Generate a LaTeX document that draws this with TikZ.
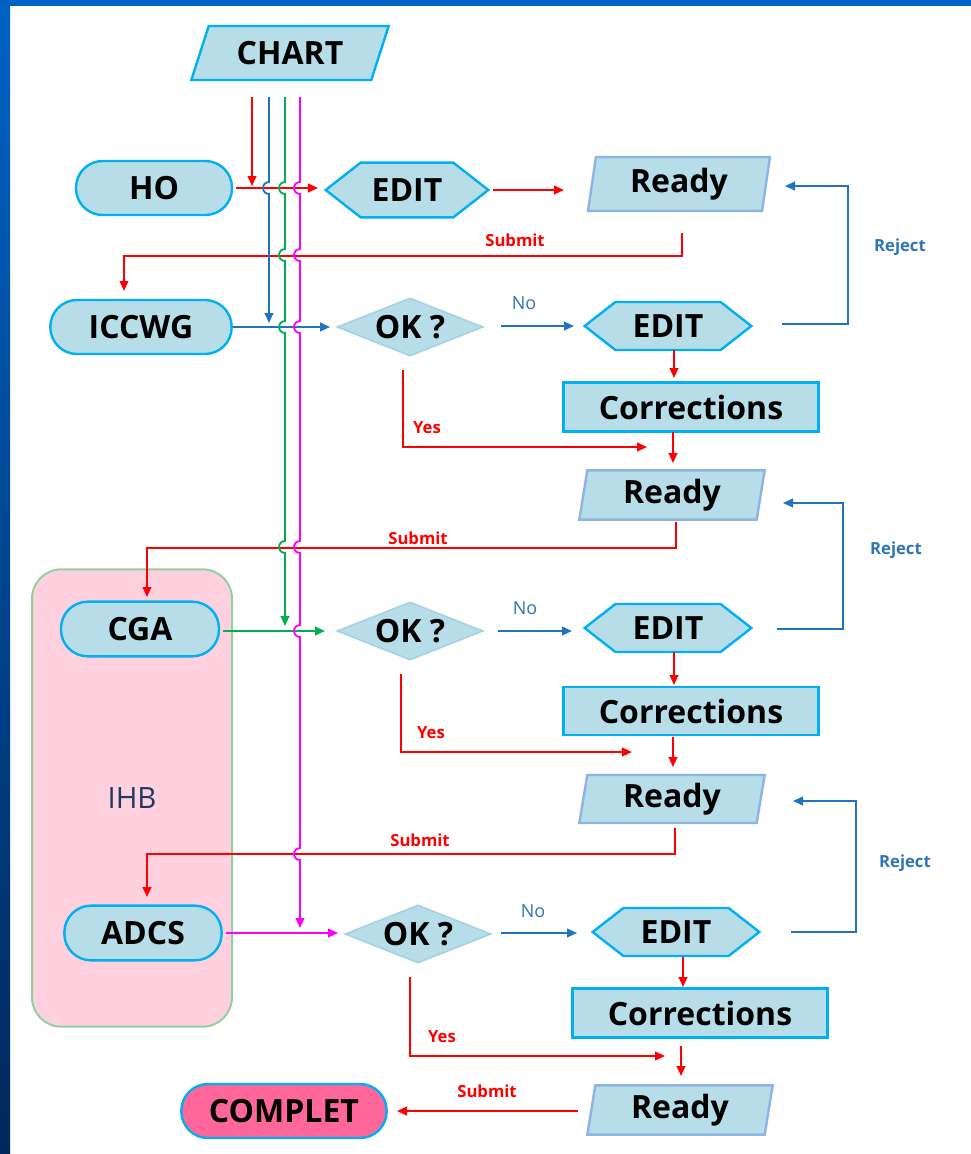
\documentclass[tikz,border=0pt]{standalone}
\usepackage{fontspec}
\setmainfont{Open Sans}
\usepackage{tikz}
\usetikzlibrary{arrows.meta}
\usetikzlibrary{calc}
\usetikzlibrary{shapes.geometric,shapes.symbols}
\definecolor{boxfill}{RGB}{183,221,232}
\definecolor{boxline}{RGB}{0,176,240}
\definecolor{readyline}{RGB}{141,180,226}
\definecolor{askline}{RGB}{165,210,224}
\definecolor{flowred}{RGB}{255,0,0}
\definecolor{flowblue}{RGB}{31,115,192}
\definecolor{flowgreen}{RGB}{0,176,80}
\definecolor{flowpink}{RGB}{255,0,255}
\definecolor{labelblue}{RGB}{46,117,182}
\definecolor{ihbfill}{RGB}{255,209,222}
\definecolor{ihbline}{RGB}{146,208,160}
\definecolor{ihbtext}{RGB}{31,56,100}
\definecolor{completfill}{RGB}{255,102,153}
\definecolor{slideblue}{RGB}{0,98,196}
\definecolor{slidedark}{RGB}{0,40,92}
\tikzset{
	>={Triangle[length=7.5pt,width=6.5pt]},
	bignode/.style={draw=boxline, fill=boxfill, line width=1.8pt, inner sep=0pt, font=\fontsize{24}{28}\selectfont\bfseries},
	termnode/.style={bignode, rectangle, rounded corners=20pt, minimum height=40.5pt},
	editnode/.style={bignode, signal, signal to=west and east, signal pointer angle=76, minimum height=36pt, minimum width=125pt},
	readynode/.style={bignode, draw=readyline, trapezium, trapezium left angle=76, trapezium right angle=104, trapezium stretches body=true, minimum height=37pt, minimum width=139pt},
	asknode/.style={bignode, draw=askline, line width=1.2pt, diamond, aspect=2.5, minimum width=109.5pt, minimum height=43.5pt},
	rectnode/.style={bignode, rectangle, minimum width=191pt, minimum height=37pt},
	redflow/.style={draw=flowred, line width=1.4pt},
	blueflow/.style={draw=flowblue, line width=1.4pt},
	greenflow/.style={draw=flowgreen, line width=1.4pt},
	pinkflow/.style={draw=flowpink, line width=1.4pt},
	redlabel/.style={text=flowred, font=\fontsize{12.5}{15}\selectfont\bfseries},
	rejectlabel/.style={text=labelblue, font=\fontsize{12.5}{15}\selectfont\bfseries},
	nolabel/.style={text=labelblue, font=\fontsize{13.5}{15}\selectfont}
}

\begin{document}
\begin{tikzpicture}[x=0.75pt,y=-0.75pt]
		% slide frame
		\fill[white] (0,0) rectangle (971,1154);
		\fill[slideblue] (0,0) rectangle (971,6);
		\shade[top color=slideblue, bottom color=slidedark] (0,0) rectangle (10,1154);
		\useasboundingbox (0,0) rectangle (971,1154);
		
		\node[draw=ihbline, fill=ihbfill, line width=1.5pt, rounded corners=22pt, minimum width=150pt, minimum height=343pt, text=ihbtext, font=\fontsize{22}{26}\selectfont] at (132,798) (IHB) {IHB};
		
		\node[bignode, trapezium, trapezium left angle=53.5, trapezium right angle=126.5, trapezium stretches body=true, minimum width=148pt, minimum height=40.5pt] at (290,53) (CHART) {CHART};
		
		\node[termnode, minimum width=117pt] at (154,188) (HO) {HO};
		\node[editnode, minimum width=122pt, minimum height=41pt] at (407,190) (EDIT1) {EDIT};
		\node[readynode, minimum width=136.5pt, minimum height=40.5pt] at (679,184) (Ready1) {Ready};
		
		\node[termnode, minimum width=136pt] at (141,327) (ICCWG) {ICCWG};
		\node[asknode] at (410,327) (OK1) {OK ?};
		\node[editnode] at (668,326) (EDIT2) {EDIT};
		\node[rectnode] at (691,407) (Corr1) {Corrections};
		\node[readynode] at (672,495) (Ready2) {Ready};
		
		\node[termnode, minimum width=118.5pt, minimum height=41pt] at (140,629) (CGA) {CGA};
		\node[asknode] at (410,631) (OK2) {OK ?};
		\node[editnode] at (668,628) (EDIT3) {EDIT};
		\node[rectnode, minimum height=36pt] at (691,711) (Corr2) {Corrections};
		\node[readynode, minimum height=36pt] at (672,799) (Ready3) {Ready};
		
		\node[termnode, minimum width=118pt, minimum height=41pt] at (143,933) (ADCS) {ADCS};
		\node[asknode] at (418,934) (OK3) {OK ?};
		\node[editnode] at (676,932) (EDIT4) {EDIT};
		\node[rectnode] at (700,1013) (Corr3) {Corrections};
		\node[readynode] at (680,1110) (Ready4) {Ready};
		\node[termnode, fill=completfill, minimum width=154pt] at (284,1111) (COMPLET) {COMPLET};
		
		% HO row
		\draw[redflow, ->] ($(HO)+(82,0)$) -- ($(EDIT1)+(-89,-2)$);
		\draw[redflow, ->] ($(EDIT1)+(86,0)$) -- ($(Ready1)+(-115,6)$);
		\draw[redflow, ->] ($(Ready1)+(3,49)$) -- ++(0,23) -| ($(ICCWG)+(-17,-36)$);
		\node[redlabel] at (515,240) (s1) {Submit};
		
		% ICCWG row
		\draw[blueflow, ->] ($(ICCWG)+(92,0)$) -- ($(OK1)+(-80,0)$);
		\draw[blueflow, ->] ($(OK1)+(91,-1)$) -- ($(EDIT2)+(-94,0)$);
		\node[nolabel] at (524,303) (n1) {No};
		\draw[blueflow, ->] ($(EDIT2)+(114,-2)$) -| ($(Ready1)+(169,2)$) -- ($(Ready1)+(106,2)$);
		\node[rejectlabel] at (900,247) (r1) {Reject};
		\draw[redflow, ->] ($(EDIT2)+(6,24)$) -- ($(Corr1)+(-17,-29)$);
		\draw[redflow, ->] ($(OK1)+(-7,43)$) |- ($(Ready2)+(-25,-48)$);
		\node[redlabel] at (427,428) (y1) {Yes};
		\draw[redflow, ->] ($(Corr1)+(-18,25)$) -- ($(Ready2)+(1,-32)$);
		\draw[redflow, ->] ($(Ready2)+(4,27)$) -- ++(0,26) -| ($(CGA)+(7,-32)$);
		\node[redlabel] at (418,538) (s2) {Submit};
		
		% CGA row
		\draw[greenflow, ->] ($(CGA)+(83,2)$) -- ($(OK2)+(-85,0)$);
		\draw[blueflow, ->] ($(OK2)+(88,0)$) -- ($(EDIT3)+(-96,3)$);
		\node[nolabel] at (525,608) (n2) {No};
		\draw[blueflow, ->] ($(EDIT3)+(109,1)$) -| ($(Ready2)+(171,8)$) -- ($(Ready2)+(111,8)$);
		\node[rejectlabel] at (896,550) (r2) {Reject};
		\draw[redflow, ->] ($(EDIT3)+(6,24)$) -- ($(Corr2)+(-17,-26)$);
		\draw[redflow, ->] ($(OK2)+(-9,43)$) |- ($(Ready3)+(-40,-47)$);
		\node[redlabel] at (431,733) (y2) {Yes};
		\draw[redflow, ->] ($(Corr2)+(-18,26)$) -- ($(Ready3)+(1,-32)$);
		\draw[redflow, ->] ($(Ready3)+(3,29)$) -- ++(0,26) -| ($(ADCS)+(4,-36)$);
		\node[redlabel] at (420,840) (s3) {Submit};
		
		% ADCS row
		\draw[pinkflow, ->] ($(ADCS)+(83,0)$) -- ($(OK3)+(-80,-1)$);
		\draw[blueflow, ->] ($(OK3)+(83,-1)$) -- ($(EDIT4)+(-99,1)$);
		\node[nolabel] at (533,911) (n3) {No};
		\draw[blueflow, ->] ($(EDIT4)+(115,0)$) -| ($(Ready3)+(184,2)$) -- ($(Ready3)+(121,2)$);
		\node[rejectlabel] at (905,863) (r3) {Reject};
		\draw[redflow, ->] ($(EDIT4)+(7,25)$) -- ($(Corr3)+(-17,-26)$);
		\draw[redflow, ->] ($(OK3)+(-8,43)$) |- ($(Ready4)+(-15,-54)$);
		\node[redlabel] at (442,1037) (y3) {Yes};
		\draw[redflow, ->] ($(Corr3)+(-19,33)$) -- ($(Ready4)+(1,-34)$);
		\draw[redflow, ->] ($(Ready4)+(-102,1)$) -- ($(COMPLET)+(113,0)$);
		\node[redlabel] at (487,1091) (s4) {Submit};
		
		% wires from CHART, hopping over the crossings
		\coordinate (wr) at ($(CHART)+(-38,44)$);
		\coordinate (wb) at ($(CHART)+(-21,44)$);
		\coordinate (wg) at ($(CHART)+(-5,44)$);
		\coordinate (wp) at ($(CHART)+(10,44)$);
		\draw[redflow, ->] (wr) -- ($(HO)+(98,-2)$);
		\draw[blueflow, ->] (wb) \foreach \h in {188}{ -- (269,\h-6) arc[start angle=90, end angle=270, radius=4.5pt]} -- ($(ICCWG)+(128,-4)$);
		\draw[greenflow, ->] (wg) \foreach \h in {188,255,327,547}{ -- (285,\h-6) arc[start angle=90, end angle=270, radius=4.5pt]} -- ($(CGA)+(145,-3)$);
		\draw[pinkflow, ->] (wp) \foreach \h in {188,255,327,547,631,854}{ -- (300,\h-6) arc[start angle=90, end angle=270, radius=4.5pt]} -- ($(ADCS)+(157,-5)$);
		
	\end{tikzpicture}
\end{document}
